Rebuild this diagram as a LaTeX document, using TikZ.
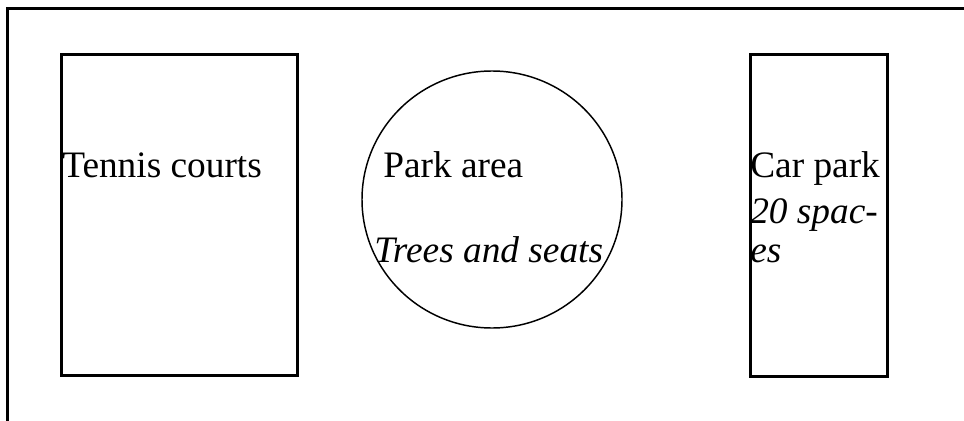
\documentclass[tikz,border=0pt]{standalone}
\usepackage{fontspec}
\setmainfont{Liberation Serif}
\begin{document}
\begin{tikzpicture}[x=0.75pt,y=-0.75pt,
  frame/.style={line width=2.25pt},
  area/.style={line width=2.25pt},
  lbl/.style={anchor=base west, inner sep=0pt, font=\fontsize{28}{32}\selectfont},
  ilbl/.style={lbl, font=\fontsize{28}{32}\selectfont\itshape}]
\useasboundingbox (0,0) rectangle (964,421);
\draw[frame] (7.5,421) -- (7.5,8.5) -- (964,8.5);
\draw[area] (61.5,54.5) rectangle (297.5,375.5);
\draw[area] (750.5,54.5) rectangle (887.5,376);
\draw[line width=1.1pt] (492,199.5) ellipse [x radius=130, y radius=128.5];
\node[lbl] (tennis) at (62,177) {Tennis courts};
\node[lbl] (park) at (383,177) {Park area};
\node[ilbl] (trees) at (374,262) {Trees and seats};
\node[lbl] (car) at (750,177) {Car park};
\node[ilbl] (spaces) at (750,223) {20 spac-};
\node[ilbl] (es) at (750,262) {es};
\end{tikzpicture}
\end{document}
